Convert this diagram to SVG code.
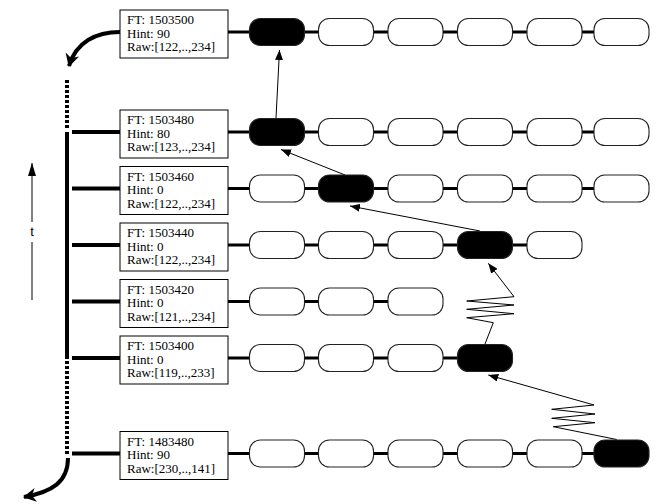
<svg xmlns="http://www.w3.org/2000/svg" width="658" height="504" viewBox="0 0 658 504">
<defs>
<style>
.box{fill:#fff;stroke:#000;stroke-width:1}
.lbl{font-family:"Liberation Serif","Times New Roman",serif;font-size:13px;fill:#000}
.pill{fill:#fff;stroke:#222;stroke-width:1.1}
.blk{fill:#000;stroke:#222;stroke-width:1.1}
.link{stroke:#000;stroke-width:3;fill:none}
.branch{stroke:#000;stroke-width:4;fill:none}
.thin{stroke:#000;stroke-width:1;fill:none}
</style>
<marker id="ah" markerWidth="10" markerHeight="8" refX="10" refY="4" orient="auto" markerUnits="userSpaceOnUse" viewBox="0 0 10 8">
<path d="M0,0 L10,4 L0,8 z" fill="#000"/>
</marker>
<marker id="ahT" markerWidth="13" markerHeight="8" refX="13" refY="4" orient="auto" markerUnits="userSpaceOnUse" viewBox="0 0 13 8">
<path d="M0,0 L13,4 L0,8 z" fill="#000"/>
</marker>
<marker id="ahB" markerWidth="14" markerHeight="14" refX="12" refY="7" orient="auto" markerUnits="userSpaceOnUse" viewBox="0 0 14 14">
<path d="M0,0 L13,7 L0,14 L4,7 z" fill="#000"/>
</marker>
</defs>

<g id="timeline">
<line class="branch" x1="67" y1="80" x2="67" y2="130" stroke-dasharray="3,2" stroke-width="3.5"/>
<line class="branch" x1="67" y1="132" x2="67" y2="359"/>
<line class="branch" x1="67" y1="361" x2="67" y2="456" stroke-dasharray="3,2" stroke-width="3.5"/>
<path class="branch" d="M120,32 C96,32 76,42 69,66" stroke-width="3.5" marker-end="url(#ahB)"/>
<path class="branch" d="M68,458 C68,482 52,492 24,497" stroke-width="3.5" marker-end="url(#ahB)"/>
</g>

<g id="t-axis">
<line class="thin" x1="32" y1="300" x2="32" y2="242"/>
<line class="thin" x1="32" y1="222" x2="32" y2="163" marker-end="url(#ahT)"/>
<text x="32" y="236" text-anchor="middle" font-family="Liberation Sans, Arial, sans-serif" font-size="13">t</text>
</g>

<g id="connectors">
<!-- branches -->
<line class="branch" x1="72" y1="132" x2="120" y2="132"/>
<line class="branch" x1="72" y1="188.5" x2="120" y2="188.5"/>
<line class="branch" x1="72" y1="245" x2="120" y2="245"/>
<line class="branch" x1="72" y1="301.5" x2="120" y2="301.5"/>
<line class="branch" x1="72" y1="358" x2="120" y2="358"/>
<line class="branch" x1="72" y1="453.5" x2="120" y2="453.5"/>
<!-- row links -->
<path class="link" d="M228,32H249.5 M304.5,32H318.5 M373.5,32H388 M443,32H457.5 M512.5,32H527 M582,32H594"/>
<path class="link" d="M228,132H249.5 M304.5,132H318.5 M373.5,132H388 M443,132H457.5 M512.5,132H527 M582,132H594"/>
<path class="link" d="M228,188.5H249.5 M304.5,188.5H318.5 M373.5,188.5H388 M443,188.5H457.5 M512.5,188.5H527 M582,188.5H594"/>
<path class="link" d="M228,245H249.5 M304.5,245H318.5 M373.5,245H388 M443,245H457.5 M512.5,245H527"/>
<path class="link" d="M228,301.5H249.5 M304.5,301.5H318.5 M373.5,301.5H388"/>
<path class="link" d="M228,358H249.5 M304.5,358H318.5 M373.5,358H388 M443,358H457.5"/>
<path class="link" d="M228,453.5H249.5 M304.5,453.5H318.5 M373.5,453.5H388 M443,453.5H457.5 M512.5,453.5H527 M582,453.5H594"/>
<!-- successor arrows -->
<line class="thin" x1="276" y1="118" x2="279.5" y2="50" marker-end="url(#ah)"/>
<line class="thin" x1="345" y1="175" x2="281" y2="149.5" marker-end="url(#ah)"/>
<line class="thin" x1="480" y1="231" x2="350" y2="206" marker-end="url(#ah)"/>
<polyline class="thin" points="485,344 493.3,322.7 466.7,317.7 514,313.7 466.7,309.3 514,305 466.7,301 514,296.7 488.3,263.3" marker-end="url(#ah)"/>
<polyline class="thin" points="616.7,439.5 553.3,426.7 595,422.7 551.7,418.3 595,414 551.7,409.3 594,405 488.3,375" marker-end="url(#ah)"/>
</g>

<g id="row-1503500">
<rect class="box" x="120" y="10" width="108" height="48"/>
<text class="lbl" x="127" y="24">FT: 1503500</text>
<text class="lbl" x="127" y="37.5">Hint: 90</text>
<text class="lbl" x="127" y="51">Raw:[122,..,234]</text>
<rect class="blk" x="249.5" y="18.5" width="55" height="27" rx="11"/>
<rect class="pill" x="318.5" y="18.5" width="55" height="27" rx="11"/>
<rect class="pill" x="388" y="18.5" width="55" height="27" rx="11"/>
<rect class="pill" x="457.5" y="18.5" width="55" height="27" rx="11"/>
<rect class="pill" x="527" y="18.5" width="55" height="27" rx="11"/>
<rect class="pill" x="594" y="18.5" width="55" height="27" rx="11"/>
</g>

<g id="row-1503480">
<rect class="box" x="120" y="110" width="108" height="48"/>
<text class="lbl" x="127" y="124">FT: 1503480</text>
<text class="lbl" x="127" y="137.5">Hint: 80</text>
<text class="lbl" x="127" y="151">Raw:[123,..,234]</text>
<rect class="blk" x="249.5" y="118.5" width="55" height="27" rx="11"/>
<rect class="pill" x="318.5" y="118.5" width="55" height="27" rx="11"/>
<rect class="pill" x="388" y="118.5" width="55" height="27" rx="11"/>
<rect class="pill" x="457.5" y="118.5" width="55" height="27" rx="11"/>
<rect class="pill" x="527" y="118.5" width="55" height="27" rx="11"/>
<rect class="pill" x="594" y="118.5" width="55" height="27" rx="11"/>
</g>

<g id="row-1503460">
<rect class="box" x="120" y="166.5" width="108" height="48"/>
<text class="lbl" x="127" y="180.5">FT: 1503460</text>
<text class="lbl" x="127" y="194">Hint: 0</text>
<text class="lbl" x="127" y="207.5">Raw:[122,..,234]</text>
<rect class="pill" x="249.5" y="175" width="55" height="27" rx="11"/>
<rect class="blk" x="318.5" y="175" width="55" height="27" rx="11"/>
<rect class="pill" x="388" y="175" width="55" height="27" rx="11"/>
<rect class="pill" x="457.5" y="175" width="55" height="27" rx="11"/>
<rect class="pill" x="527" y="175" width="55" height="27" rx="11"/>
<rect class="pill" x="594" y="175" width="55" height="27" rx="11"/>
</g>

<g id="row-1503440">
<rect class="box" x="120" y="223" width="108" height="48"/>
<text class="lbl" x="127" y="237">FT: 1503440</text>
<text class="lbl" x="127" y="250.5">Hint: 0</text>
<text class="lbl" x="127" y="264">Raw:[122,..,234]</text>
<rect class="pill" x="249.5" y="231.5" width="55" height="27" rx="11"/>
<rect class="pill" x="318.5" y="231.5" width="55" height="27" rx="11"/>
<rect class="pill" x="388" y="231.5" width="55" height="27" rx="11"/>
<rect class="blk" x="457.5" y="231.5" width="55" height="27" rx="11"/>
<rect class="pill" x="527" y="231.5" width="55" height="27" rx="11"/>
</g>

<g id="row-1503420">
<rect class="box" x="120" y="279.5" width="108" height="48"/>
<text class="lbl" x="127" y="293.5">FT: 1503420</text>
<text class="lbl" x="127" y="307">Hint: 0</text>
<text class="lbl" x="127" y="320.5">Raw:[121,..,234]</text>
<rect class="pill" x="249.5" y="288" width="55" height="27" rx="11"/>
<rect class="pill" x="318.5" y="288" width="55" height="27" rx="11"/>
<rect class="pill" x="388" y="288" width="55" height="27" rx="11"/>
</g>

<g id="row-1503400">
<rect class="box" x="120" y="336" width="108" height="48"/>
<text class="lbl" x="127" y="350">FT: 1503400</text>
<text class="lbl" x="127" y="363.5">Hint: 0</text>
<text class="lbl" x="127" y="377">Raw:[119,..,233]</text>
<rect class="pill" x="249.5" y="344.5" width="55" height="27" rx="11"/>
<rect class="pill" x="318.5" y="344.5" width="55" height="27" rx="11"/>
<rect class="pill" x="388" y="344.5" width="55" height="27" rx="11"/>
<rect class="blk" x="457.5" y="344.5" width="55" height="27" rx="11"/>
</g>

<g id="row-1483480">
<rect class="box" x="120" y="431.5" width="108" height="48"/>
<text class="lbl" x="127" y="445.5">FT: 1483480</text>
<text class="lbl" x="127" y="459">Hint: 90</text>
<text class="lbl" x="127" y="472.5">Raw:[230,..,141]</text>
<rect class="pill" x="249.5" y="440" width="55" height="27" rx="11"/>
<rect class="pill" x="318.5" y="440" width="55" height="27" rx="11"/>
<rect class="pill" x="388" y="440" width="55" height="27" rx="11"/>
<rect class="pill" x="457.5" y="440" width="55" height="27" rx="11"/>
<rect class="pill" x="527" y="440" width="55" height="27" rx="11"/>
<rect class="blk" x="594" y="440" width="55" height="27" rx="11"/>
</g>
</svg>
